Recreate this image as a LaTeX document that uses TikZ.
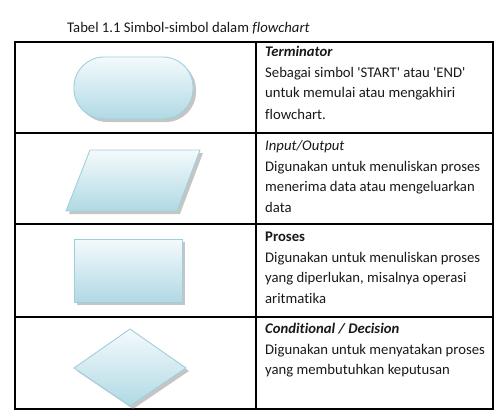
\documentclass[tikz,border=0pt]{standalone}
\usepackage{fontspec}
\setmainfont{Carlito}[Ligatures=NoCommon]
\definecolor{symtop}{HTML}{F4FAFC}
\definecolor{symbot}{HTML}{B0D9E4}
\definecolor{symline}{HTML}{9FCFDC}
\begin{document}
\begin{tikzpicture}[x=1pt,y=-1pt,
  tline/.style={line width=1.7pt,black},
  txt/.style={anchor=base west,inner sep=0pt,font=\fontsize{14.7}{18}\selectfont,text=black!90},
  symfill/.style={top color=symtop,bottom color=symbot,draw=symline,line width=0.9pt},
  shad/.style={fill=black!45,opacity=0.5}]
\useasboundingbox (0,0) rectangle (500,417);
% title
\node[txt] (title) at (67,33) {Tabel 1.1 Simbol-simbol dalam \textit{flowchart}};
% table grid
\draw[tline] (15,42) rectangle (493,409);
\draw[tline] (256,42) -- (256,409);
\draw[tline] (15,133) -- (493,133);
\draw[tline] (15,224) -- (493,224);
\draw[tline] (15,317) -- (493,317);
% terminator
\fill[shad,rounded corners=30pt] (77,60) rectangle (196,122);
\node[symfill,rounded corners=30pt,minimum width=119pt,minimum height=62pt,inner sep=0pt] (term) at (133.5,88) {};
% input/output
\fill[shad] (93,153) -- (203,153) -- (180,214) -- (69,214) -- cycle;
\draw[symfill] (90,150) -- (200,150) -- (177,211) -- (66,211) -- cycle;
% process
\fill[shad] (77,242) rectangle (185,305);
\node[symfill,minimum width=108pt,minimum height=63pt,inner sep=0pt] (proc) at (128,270.5) {};
% decision
\fill[shad] (133,332) -- (189,371) -- (133,409) -- (77,371) -- cycle;
\draw[symfill] (130,329) -- (186,368) -- (130,406) -- (74,368) -- cycle;
% texts
\node[txt] (t1a) at (265,57) {\textbf{\textit{Terminator}}};
\node[txt] (t1b) at (265,78) {Sebagai simbol \textquotesingle START\textquotesingle{} atau \textquotesingle END\textquotesingle};
\node[txt] (t1c) at (265,98) {untuk memulai atau mengakhiri};
\node[txt] (t1d) at (265,119) {flowchart.};
\node[txt] (t2a) at (265,150) {\textit{Input/Output}};
\node[txt] (t2b) at (265,171) {Digunakan untuk menuliskan proses};
\node[txt] (t2c) at (265,191) {menerima data atau mengeluarkan};
\node[txt] (t2d) at (265,212) {data};
\node[txt] (t3a) at (265,241) {\textbf{Proses}};
\node[txt] (t3b) at (265,262) {Digunakan untuk menuliskan proses};
\node[txt] (t3c) at (265,282) {yang diperlukan, misalnya operasi};
\node[txt] (t3d) at (265,303) {aritmatika};
\node[txt] (t4a) at (265,333) {\textbf{\textit{Conditional / Decision}}};
\node[txt] (t4b) at (265,354) {Digunakan untuk menyatakan proses};
\node[txt] (t4c) at (265,374) {yang membutuhkan keputusan};
\end{tikzpicture}
\end{document}
